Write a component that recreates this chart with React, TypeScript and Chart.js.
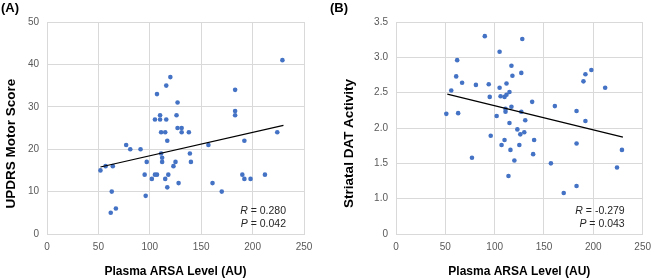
import React, { useEffect, useRef } from 'react';
import { Chart, registerables } from 'chart.js';

Chart.register(...registerables);

const FONT = '"Liberation Sans", Arial, sans-serif';

// Panel A: Plasma ARSA vs UPDRS motor score
const arsaA = [52, 57, 64, 63, 62, 67, 77, 81, 91, 97, 95, 96, 102, 105, 107, 107, 105, 110, 110, 111, 115, 116, 116, 120, 117, 111, 112, 112, 115, 118, 117, 123, 125, 128, 126, 127, 127, 131, 131, 138, 139, 140, 157, 161, 170, 183, 183, 183, 192, 190, 192, 198, 212, 224, 229];
const updrs = [15, 16, 16, 10, 5, 6, 21, 20, 20, 17, 14, 9, 13, 14, 14, 33, 27, 28, 27, 24, 24, 27, 35, 37, 22, 19, 18, 17, 13, 14, 11, 16, 17, 12, 28, 31, 25, 25, 24, 24, 19, 17, 21, 12, 10, 34, 29, 28, 22, 14, 13, 13, 14, 24, 41];

// Panel B: Plasma ARSA vs striatal DAT activity
const arsaB = [51, 56, 61, 62, 63, 67, 77, 81, 90, 94, 95, 96, 102, 105, 105, 106, 107, 110, 110, 111, 111, 112, 112, 115, 114, 115, 116, 117, 117, 118, 120, 123, 125, 126, 127, 127, 128, 130, 131, 138, 139, 140, 157, 161, 170, 183, 183, 183, 190, 192, 192, 198, 212, 224, 229];
const dat = [2.20, 2.53, 2.73, 2.96, 2.21, 2.64, 1.58, 2.61, 3.30, 2.62, 2.44, 1.89, 2.17, 3.08, 2.57, 2.45, 1.76, 1.83, 2.44, 2.27, 2.23, 2.47, 2.63, 2.07, 1.32, 2.51, 1.69, 2.30, 2.88, 2.74, 1.54, 1.98, 1.76, 1.91, 2.78, 2.23, 3.26, 1.94, 2.11, 2.37, 1.63, 1.83, 1.50, 2.31, 1.08, 2.24, 1.78, 1.18, 2.66, 2.76, 2.10, 2.82, 2.57, 1.44, 1.69];

// Trend line end points
const trendX = [52, 230];
const trendA = [15.8, 25.6];
const trendB = [2.48, 1.87];

const statsA = ['0.280', '0.042'];
const statsB = ['-0.279', '0.043'];

type PanelProps = {
  xs: number[];
  ys: number[];
  ty: number[];
  yMin: number;
  yMax: number;
  yStep: number;
  yTitle: string;
  yFmt: (v: number) => string;
  yAxisWidth: number;
  yTitleOffset: number;
  rightPad: number;
  stats: string[];
  left: number;
  label: string;
};

function Panel(p: PanelProps) {
  const ref = useRef<HTMLCanvasElement | null>(null);
  useEffect(() => {
    if (!ref.current) return;
    const textPlugin = {
      id: 'texts',
      afterDraw(chart: any) {
        const { ctx, chartArea } = chart;
        ctx.save();
        // y-axis title
        ctx.fillStyle = '#000';
        ctx.font = `bold 13.5px ${FONT}`;
        ctx.textAlign = 'center';
        ctx.textBaseline = 'middle';
        ctx.translate(chartArea.left - p.yTitleOffset, (chartArea.top + chartArea.bottom) / 2 + 15.5);
        ctx.rotate(-Math.PI / 2);
        ctx.fillText(p.yTitle, 0, 0);
        ctx.restore();

        ctx.save();
        ctx.fillStyle = '#262626';
        ctx.textBaseline = 'middle';
        const lines: [string, string, number][] = [
          ['R', ' = ' + p.stats[0], chartArea.bottom - 23],
          ['P', ' = ' + p.stats[1], chartArea.bottom - 10],
        ];
        lines.forEach(([it, rest, y]) => {
          ctx.font = `italic 10.5px ${FONT}`;
          const w1 = ctx.measureText(it).width;
          ctx.font = `10.5px ${FONT}`;
          const w2 = ctx.measureText(rest).width;
          const x0 = chartArea.right - 18 - w1 - w2;
          ctx.font = `italic 10.5px ${FONT}`;
          ctx.textAlign = 'left';
          ctx.fillText(it, x0, y);
          ctx.font = `10.5px ${FONT}`;
          ctx.fillText(rest, x0 + w1, y);
        });
        ctx.restore();
      },
    };
    const chart = new Chart(ref.current, {
      type: 'scatter',
      data: {
        datasets: [
          {
            data: p.xs.map((x, i) => ({ x, y: p.ys[i] })),
            backgroundColor: '#4472C4',
            borderWidth: 0,
            pointRadius: 2.3,
            showLine: false,
            order: 2,
          },
          {
            data: trendX.map((x, i) => ({ x, y: p.ty[i] })),
            borderColor: '#000000',
            borderWidth: 1.2,
            pointRadius: 0,
            showLine: true,
            order: 1,
          },
        ],
      },
      options: {
        responsive: false,
        animation: false,
        events: [],
        layout: { padding: { top: 22, right: p.rightPad, left: 0, bottom: 0 } },
        plugins: { legend: { display: false }, tooltip: { enabled: false } },
        scales: {
          x: {
            type: 'linear',
            min: 0,
            max: 250,
            ticks: { stepSize: 50, color: '#595959', font: { family: FONT, size: 10 }, padding: 7 },
            grid: { color: '#d9d9d9', drawTicks: false },
            border: { color: '#d9d9d9' },
            title: {
              display: true,
              text: 'Plasma ARSA Level (AU)',
              color: '#000',
              font: { family: FONT, size: 12, weight: 'bold', lineHeight: 1 },
              padding: { top: 0, bottom: 0.5 },
            },
            afterFit: (s: any) => {
              s.height = 44;
            },
          },
          y: {
            type: 'linear',
            min: p.yMin,
            max: p.yMax,
            ticks: {
              stepSize: p.yStep,
              color: '#595959',
              font: { family: FONT, size: 10 },
              padding: 8,
              callback: (v: any) => p.yFmt(Number(v)),
            },
            grid: { color: '#d9d9d9', drawTicks: false },
            border: { color: '#d9d9d9' },
            title: { display: false },
            afterFit: (s: any) => {
              s.width = p.yAxisWidth;
            },
          },
        },
      },
      plugins: [textPlugin],
    } as any);
    return () => chart.destroy();
  }, []);
  return (
    <div style={{ position: 'absolute', left: p.left, top: 0, width: 329, height: 278 }}>
      <canvas ref={ref} width={329} height={278} style={{ display: 'block' }} />
      <div
        style={{
          position: 'absolute',
          left: 1,
          top: 0,
          font: `bold 13px ${FONT}`,
          color: '#000',
          lineHeight: '15px',
        }}
      >
        {p.label}
      </div>
    </div>
  );
}

export default function App() {
  return (
    <div style={{ position: 'fixed', left: 0, top: 0, width: 658, height: 278, background: '#fff', overflow: 'hidden' }}>
      <Panel
        xs={arsaA}
        ys={updrs}
        ty={trendA}
        yMin={0}
        yMax={50}
        yStep={10}
        yTitle="UPDRS Motor Score"
        yFmt={(v) => String(v)}
        yAxisWidth={47}
        yTitleOffset={35.5}
        rightPad={25}
        stats={statsA}
        left={0}
        label="(A)"
      />
      <Panel
        xs={arsaB}
        ys={dat}
        ty={trendB}
        yMin={0.5}
        yMax={3.5}
        yStep={0.5}
        yTitle="Striatal DAT Activity"
        yFmt={(v) => (Math.abs(v - 0.5) < 1e-6 ? '0' : v.toFixed(1))}
        yAxisWidth={67}
        yTitleOffset={47}
        rightPad={7}
        stats={statsB}
        left={329}
        label="(B)"
      />
    </div>
  );
}
